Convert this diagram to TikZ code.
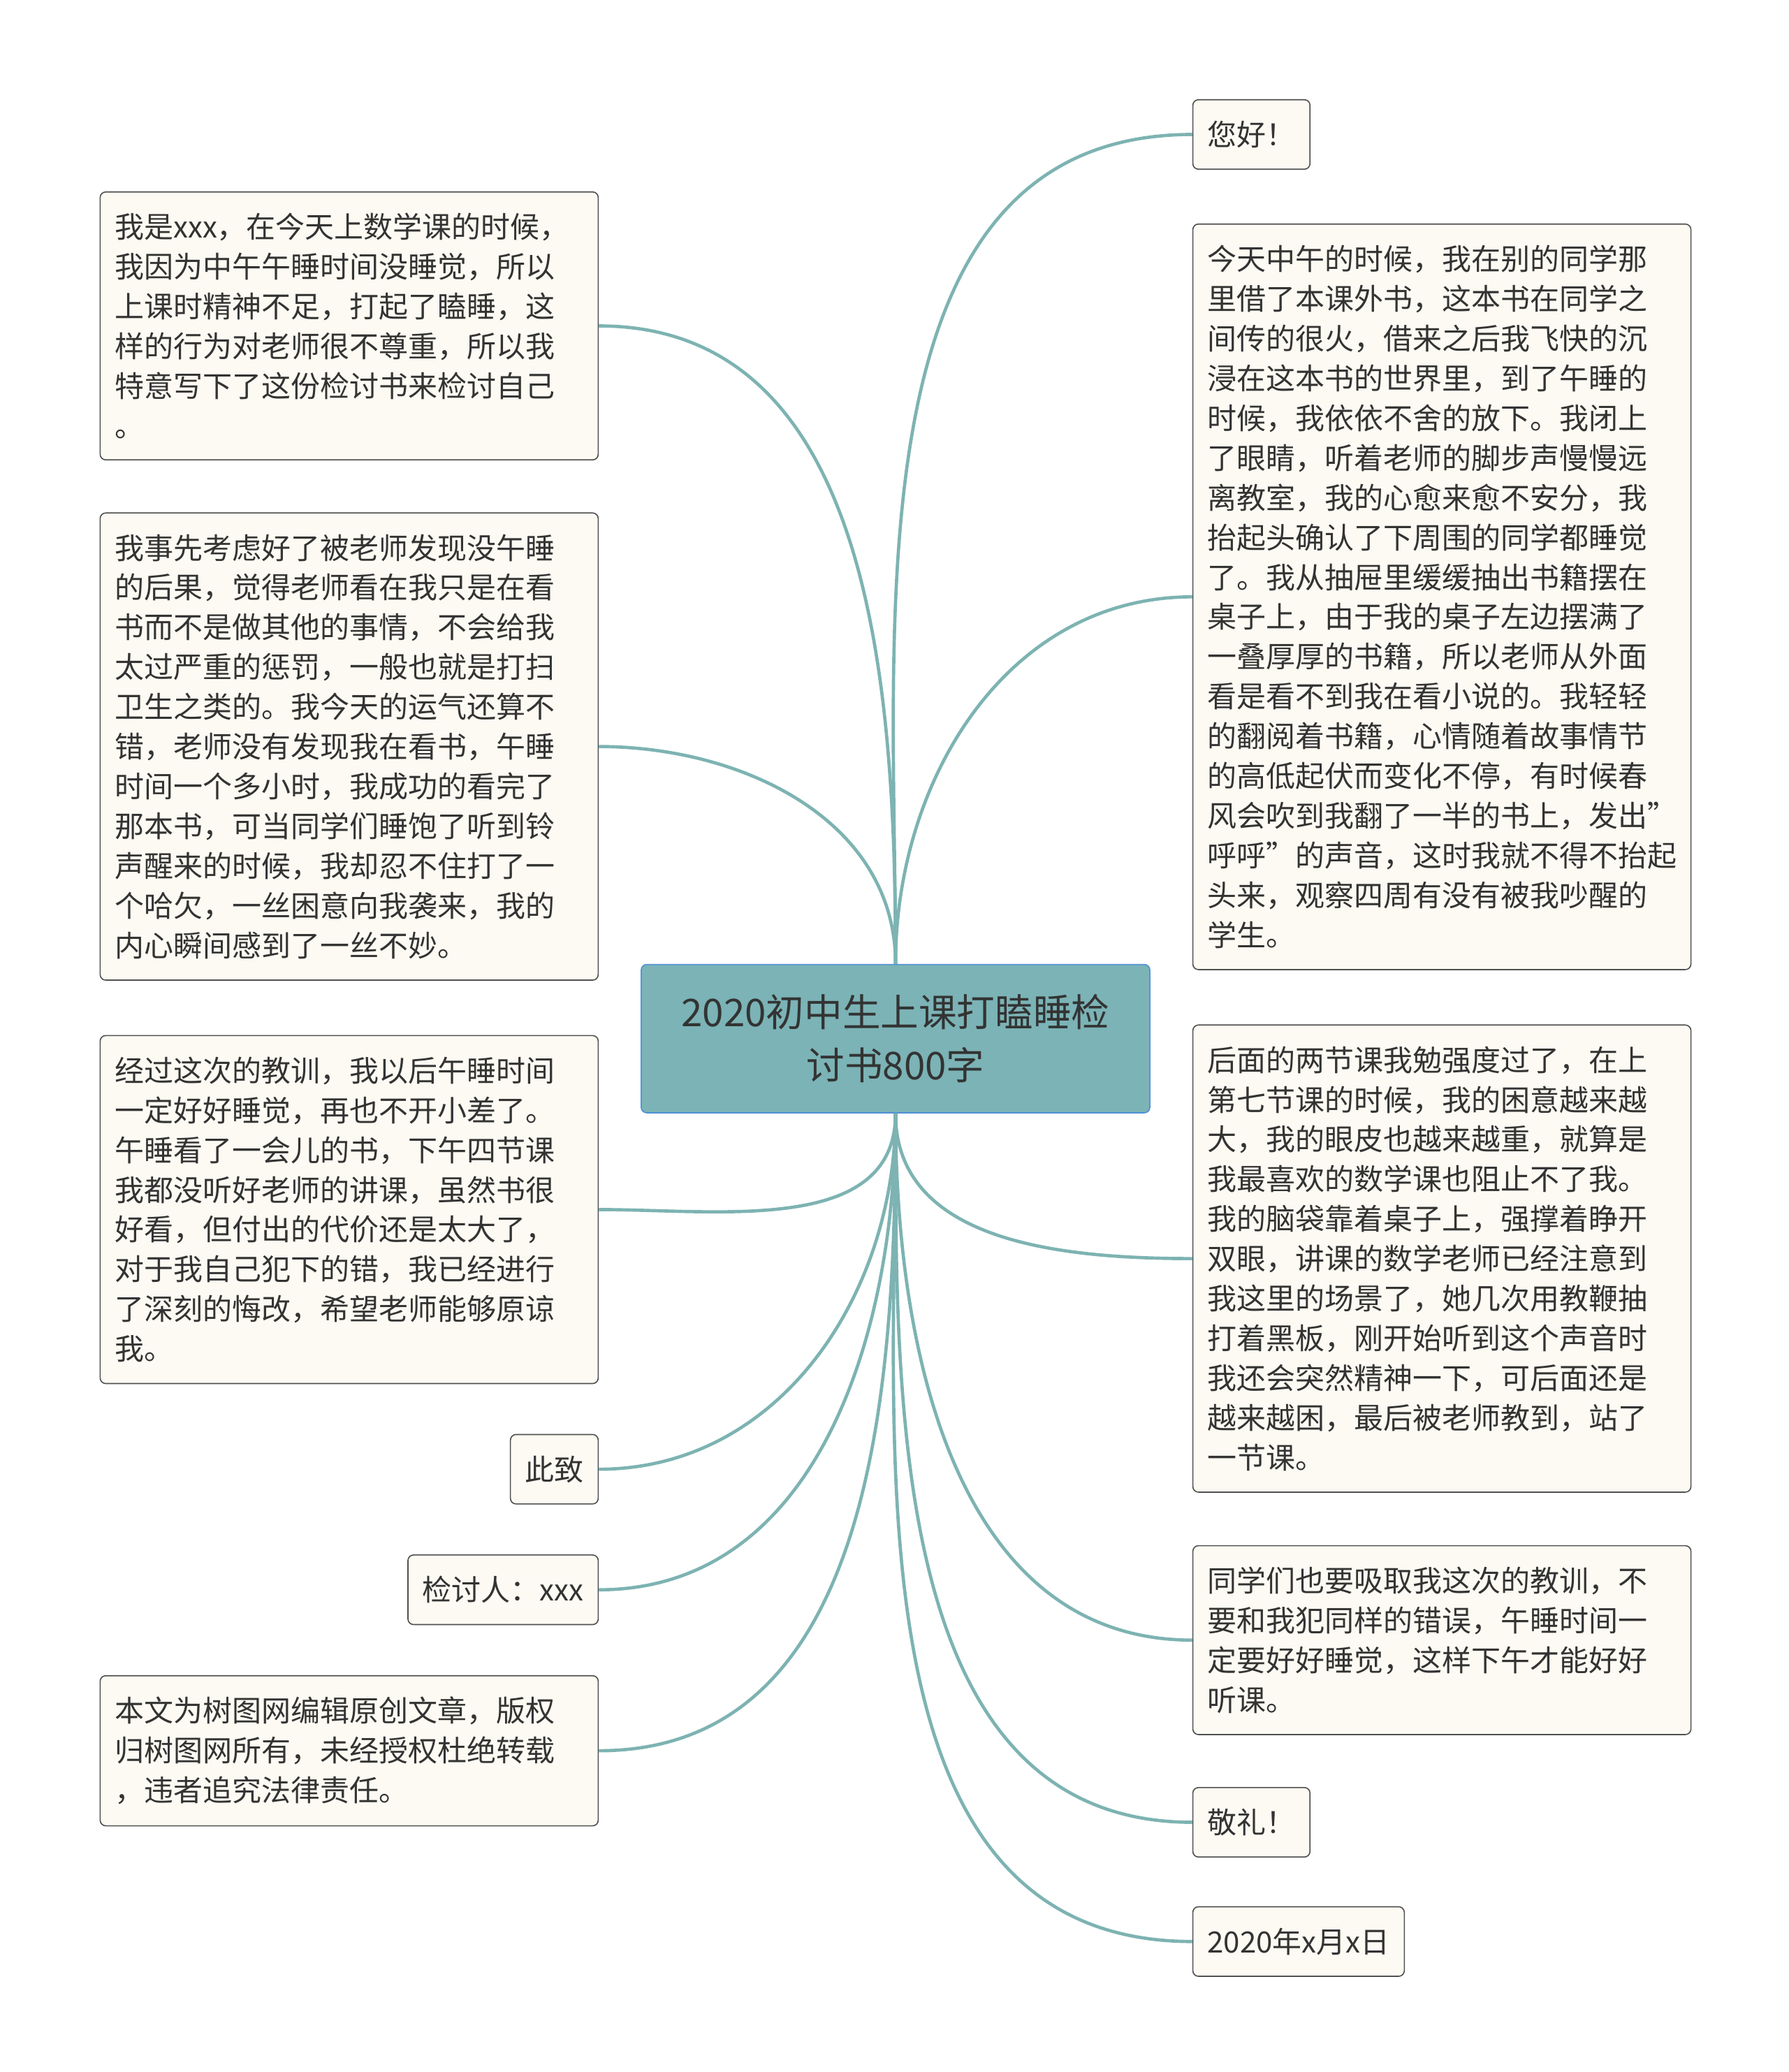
\documentclass[tikz,border=0pt]{standalone}
\usepackage{fontspec}
\setmainfont{Noto Sans CJK SC}
\usepackage{tikz}
\definecolor{linkc}{HTML}{7DB3B2}
\definecolor{boxfill}{HTML}{FCFAF2}
\definecolor{boxdraw}{HTML}{505050}
\definecolor{rootfill}{HTML}{7BB3B6}
\definecolor{rootdraw}{HTML}{4D8FD6}
\begin{document}
\begin{tikzpicture}[x=0.05cm,y=-0.05cm,
  leaf/.style={draw=boxdraw,fill=boxfill,rounded corners=6pt,line width=1.2pt,
    anchor=west,align=left,inner xsep=0.55cm,inner ysep=0.8cm,
    font=\fontsize{31.5pt}{42.7pt}\selectfont,text=black!80},
  wide/.style={leaf,text width=17.7cm},
  root/.style={draw=rootdraw,fill=rootfill,rounded corners=6pt,line width=1.2pt,
    minimum width=19.2cm,minimum height=5.6cm,align=center,
    font=\fontsize{41pt}{57pt}\selectfont,text=black!80},
  link/.style={draw=linkc,line width=3.5pt}]
\useasboundingbox (0,0) rectangle (1350,1564);
\node[root] (c) at (676,784) {2020初中生上课打瞌睡检\\讨书800字};
% right side
\node[leaf] (r1) at (900,101.5) {您好！};
\node[wide] (r2) at (900,450.5) {今天中午的时候，我在别的同学那\\里借了本课外书，这本书在同学之\\间传的很火，借来之后我飞快的沉\\浸在这本书的世界里，到了午睡的\\时候，我依依不舍的放下。我闭上\\了眼睛，听着老师的脚步声慢慢远\\离教室，我的心愈来愈不安分，我\\抬起头确认了下周围的同学都睡觉\\了。我从抽屉里缓缓抽出书籍摆在\\桌子上，由于我的桌子左边摆满了\\一叠厚厚的书籍，所以老师从外面\\看是看不到我在看小说的。我轻轻\\的翻阅着书籍，心情随着故事情节\\的高低起伏而变化不停，有时候春\\风会吹到我翻了一半的书上，发出"\\呼呼"的声音，这时我就不得不抬起\\头来，观察四周有没有被我吵醒的\\学生。};
\node[wide] (r3) at (900,950) {后面的两节课我勉强度过了，在上\\第七节课的时候，我的困意越来越\\大，我的眼皮也越来越重，就算是\\我最喜欢的数学课也阻止不了我。\\我的脑袋靠着桌子上，强撑着睁开\\双眼，讲课的数学老师已经注意到\\我这里的场景了，她几次用教鞭抽\\打着黑板，刚开始听到这个声音时\\我还会突然精神一下，可后面还是\\越来越困，最后被老师教到，站了\\一节课。};
\node[wide] (r4) at (900,1238) {同学们也要吸取我这次的教训，不\\要和我犯同样的错误，午睡时间一\\定要好好睡觉，这样下午才能好好\\听课。};
\node[leaf] (r5) at (900,1375.5) {敬礼！};
\node[leaf] (r6) at (900,1465.5) {2020年x月x日};
% left side
\node[wide,anchor=east] (l1) at (452,246) {我是xxx，在今天上数学课的时候，\\我因为中午午睡时间没睡觉，所以\\上课时精神不足，打起了瞌睡，这\\样的行为对老师很不尊重，所以我\\特意写下了这份检讨书来检讨自己\\。};
\node[wide,anchor=east] (l2) at (452,563.5) {我事先考虑好了被老师发现没午睡\\的后果，觉得老师看在我只是在看\\书而不是做其他的事情，不会给我\\太过严重的惩罚，一般也就是打扫\\卫生之类的。我今天的运气还算不\\错，老师没有发现我在看书，午睡\\时间一个多小时，我成功的看完了\\那本书，可当同学们睡饱了听到铃\\声醒来的时候，我却忍不住打了一\\个哈欠，一丝困意向我袭来，我的\\内心瞬间感到了一丝不妙。};
\node[wide,anchor=east] (l3) at (452,913) {经过这次的教训，我以后午睡时间\\一定好好睡觉，再也不开小差了。\\午睡看了一会儿的书，下午四节课\\我都没听好老师的讲课，虽然书很\\好看，但付出的代价还是太大了，\\对于我自己犯下的错，我已经进行\\了深刻的悔改，希望老师能够原谅\\我。};
\node[leaf,anchor=east] (l4) at (452,1109) {此致};
\node[leaf,anchor=east] (l5) at (452,1200) {检讨人：xxx};
\node[wide,anchor=east] (l6) at (452,1321.5) {本文为树图网编辑原创文章，版权\\归树图网所有，未经授权杜绝转载\\，违者追究法律责任。};
% connectors
\foreach \n in {r1,r2}
  \draw[link] (c.north) to[out=90,in=180] (\n.west);
\foreach \n in {r3,r4,r5,r6}
  \draw[link] (c.south) to[out=-90,in=180] (\n.west);
\foreach \n in {l1,l2}
  \draw[link] (c.north) to[out=90,in=0] (\n.east);
\foreach \n in {l3,l4,l5,l6}
  \draw[link] (c.south) to[out=-90,in=0] (\n.east);
\end{tikzpicture}
\end{document}
